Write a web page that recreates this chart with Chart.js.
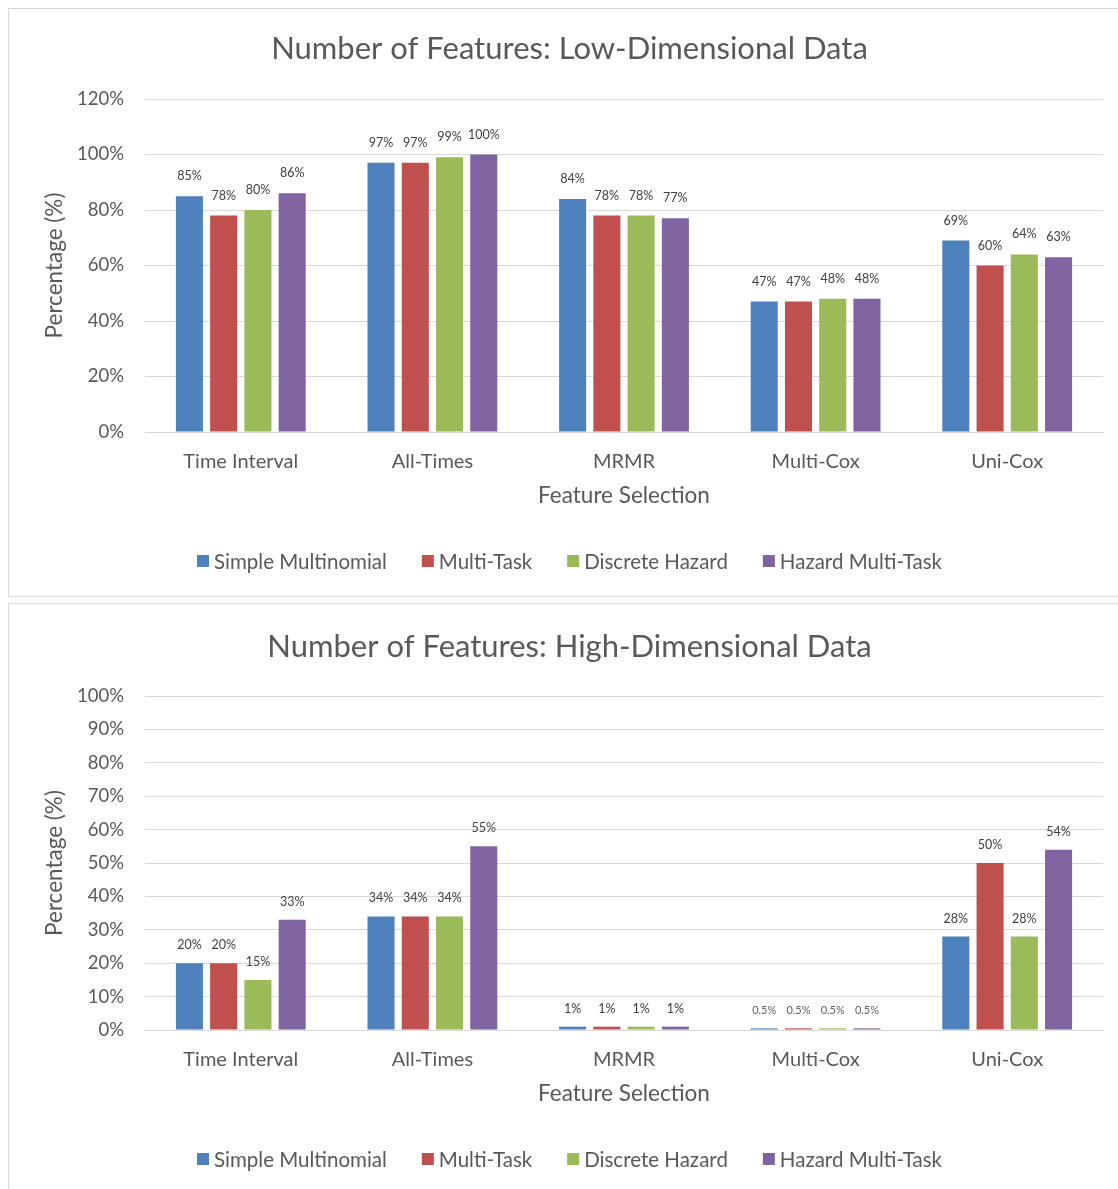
<!DOCTYPE html>
<html>
<head>
<meta charset="utf-8">
<script src="https://cdn.jsdelivr.net/npm/chart.js@4.4.1/dist/chart.umd.min.js"></script>
<style>
  html, body { margin: 0; padding: 0; background: #fff; overflow: hidden; }
  .box { position: absolute; border: 1px solid #D9D9D9; background: #fff; }
  canvas { display: block; }
</style>
</head>
<body>
<div class="box" id="box1" style="left:8px; top:8px; width:1121px; height:587px;">
  <canvas id="lowChart" width="1121" height="587"></canvas>
</div>
<div class="box" id="box2" style="left:8px; top:603px; width:1121px; height:600px;">
  <canvas id="highChart" width="1121" height="585"></canvas>
</div>
<script>
// Feature-selection methods on the x axis
const categories = ['Time Interval', 'All-Times', 'MRMR', 'Multi-Cox', 'Uni-Cox'];
// Models shown as the four bars in each group
const seriesNames = ['Simple Multinomial', 'Multi-Task', 'Discrete Hazard', 'Hazard Multi-Task'];
const seriesColors = ['#4F81BD', '#C0504D', '#9BBB59', '#8064A2'];

// Low-dimensional data: percentage of features kept
const lowSimpleMultinomial = [85, 97, 84, 47, 69];
const lowMultiTask         = [78, 97, 78, 47, 60];
const lowDiscreteHazard    = [80, 99, 78, 48, 64];
const lowHazardMultiTask   = [86, 100, 77, 48, 63];

// High-dimensional data: percentage of features kept
const highSimpleMultinomial = [20, 34, 1, 0.5, 28];
const highMultiTask         = [20, 34, 1, 0.5, 50];
const highDiscreteHazard    = [15, 34, 1, 0.5, 28];
const highHazardMultiTask   = [33, 55, 1, 0.5, 54];

// Y-axis tick values
const lowTicks  = [0, 20, 40, 60, 80, 100, 120];
const highTicks = [0, 10, 20, 30, 40, 50, 60, 70, 80, 90, 100];

const FONT = 'Lato, "Open Sans", sans-serif';
const TEXT = '#595959';
const GRID = '#D9D9D9';

function buildChart(canvasId, title, seriesValues, ticks, geom) {
  const datasets = seriesNames.map((name, i) => ({
    label: name,
    data: seriesValues[i],
    backgroundColor: seriesColors[i],
    borderWidth: 0,
    categoryPercentage: 0.715,
    barPercentage: 0.79
  }));

  const decor = {
    id: 'decor',
    afterDraw(chart) {
      const ctx = chart.ctx;
      const area = chart.chartArea;
      ctx.save();
      // chart title
      ctx.fillStyle = TEXT;
      ctx.textAlign = 'center';
      ctx.textBaseline = 'middle';
      ctx.font = '31px ' + FONT;
      ctx.fillText(title, geom.centerX, geom.titleY);
      // x axis title
      ctx.font = '22.5px ' + FONT;
      ctx.fillText('Feature Selection', (area.left + area.right) / 2, area.bottom + geom.xTitleGap);
      // y axis title
      ctx.save();
      ctx.translate(geom.yTitleX, (area.top + area.bottom) / 2);
      ctx.rotate(-Math.PI / 2);
      ctx.fillText('Percentage (%)', 0, 0);
      ctx.restore();
      // value labels above bars
      chart.data.datasets.forEach((ds, i) => {
        const meta = chart.getDatasetMeta(i);
        meta.data.forEach((bar, j) => {
          const v = ds.data[j];
          const small = v < 1;
          ctx.font = (small ? '11px ' : '12.5px ') + FONT;
          ctx.fillStyle = small ? '#606060' : '#404040';
          ctx.fillText(v + '%', bar.x, bar.y - geom.labelGap);
        });
      });
      // legend
      ctx.font = '20.5px ' + FONT;
      const sq = 12, sqGap = 5, itemGap = 35;
      const widths = seriesNames.map(n => ctx.measureText(n).width);
      const total = widths.reduce((a, w) => a + sq + sqGap + w, 0) + itemGap * (seriesNames.length - 1);
      let x = geom.centerX - total / 2;
      const ly = area.bottom + geom.legendGap;
      ctx.textAlign = 'left';
      seriesNames.forEach((n, i) => {
        ctx.fillStyle = seriesColors[i];
        ctx.fillRect(x, ly - sq / 2, sq, sq);
        ctx.fillStyle = TEXT;
        ctx.fillText(n, x + sq + sqGap, ly + 1);
        x += sq + sqGap + widths[i] + itemGap;
      });
      ctx.restore();
    }
  };

  return new Chart(document.getElementById(canvasId), {
    type: 'bar',
    data: { labels: categories, datasets },
    options: {
      responsive: false,
      animation: false,
      events: [],
      layout: { padding: { top: geom.top, right: geom.right, left: 0, bottom: 0 } },
      plugins: { legend: { display: false }, title: { display: false }, tooltip: { enabled: false } },
      scales: {
        x: {
          grid: { display: false, drawTicks: false },
          border: { display: true, color: GRID, width: 1 },
          ticks: { color: TEXT, font: { family: FONT, size: 20 }, padding: 18 },
          afterFit(axis) { axis.height = geom.xHeight; }
        },
        y: {
          min: ticks[0],
          max: ticks[ticks.length - 1],
          afterBuildTicks(axis) { axis.ticks = ticks.map(v => ({ value: v })); },
          grid: { color: GRID, lineWidth: 1, drawTicks: false },
          border: { display: false },
          ticks: { color: TEXT, font: { family: FONT, size: 18.5 }, padding: 21, callback: v => v + '%' },
          afterFit(axis) { axis.width = geom.left; }
        }
      }
    },
    plugins: [decor]
  });
}

buildChart('lowChart', 'Number of Features: Low-Dimensional Data',
  [lowSimpleMultinomial, lowMultiTask, lowDiscreteHazard, lowHazardMultiTask], lowTicks,
  { top: 90, right: 27, left: 136, xHeight: 164, centerX: 560.5, titleY: 40,
    yTitleX: 46, xTitleGap: 64, legendGap: 129, labelGap: 20 });

buildChart('highChart', 'Number of Features: High-Dimensional Data',
  [highSimpleMultinomial, highMultiTask, highDiscreteHazard, highHazardMultiTask], highTicks,
  { top: 92, right: 27, left: 136, xHeight: 159, centerX: 560.5, titleY: 43,
    yTitleX: 46, xTitleGap: 64, legendGap: 129, labelGap: 18 });
</script>
</body>
</html>
